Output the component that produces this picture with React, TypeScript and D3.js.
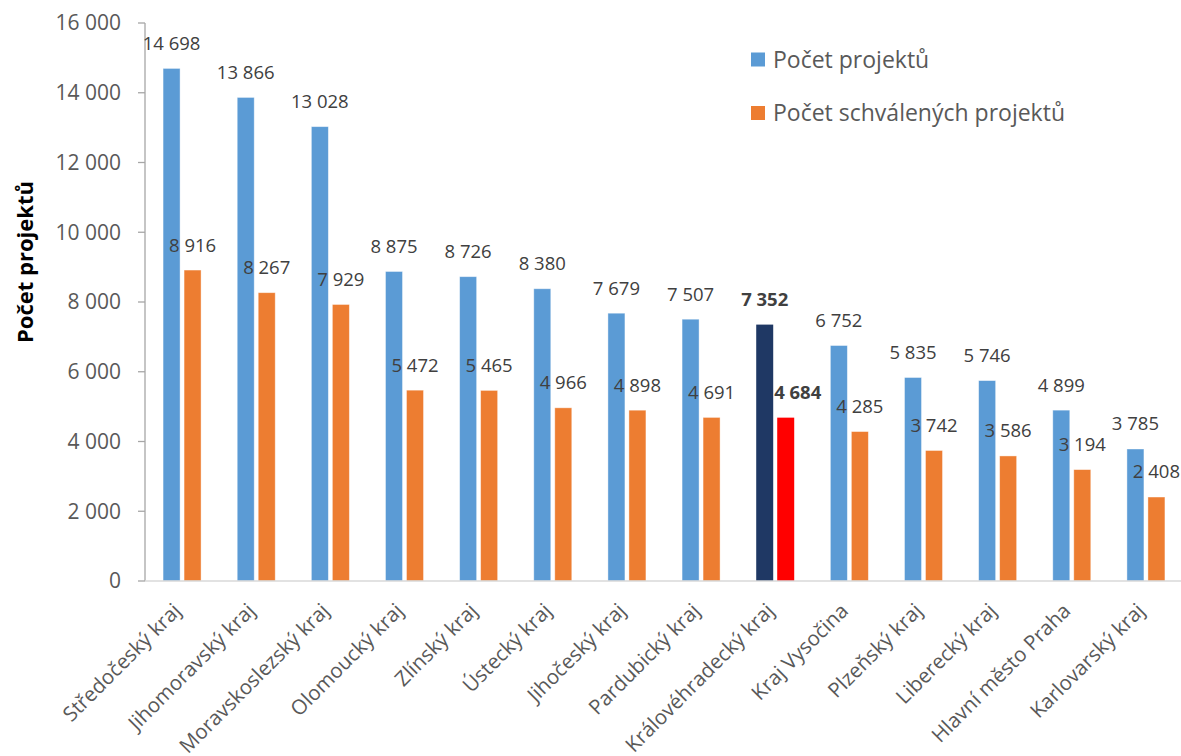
import React from "react";
import * as d3 from "d3";

const categories = [
  "Středočeský kraj", "Jihomoravský kraj", "Moravskoslezský kraj", "Olomoucký kraj",
  "Zlínský kraj", "Ústecký kraj", "Jihočeský kraj", "Pardubický kraj",
  "Královéhradecký kraj", "Kraj Vysočina", "Plzeňský kraj", "Liberecký kraj",
  "Hlavní město Praha", "Karlovarský kraj",
];
const projekty = [14698, 13866, 13028, 8875, 8726, 8380, 7679, 7507, 7352, 6752, 5835, 5746, 4899, 3785];
const schvalene = [8916, 8267, 7929, 5472, 5465, 4966, 4898, 4691, 4684, 4285, 3742, 3586, 3194, 2408];
const yTicks = [0, 2000, 4000, 6000, 8000, 10000, 12000, 14000, 16000];
const seriesNames = ["Počet projektů", "Počet schválených projektů"];
const highlight = "Královéhradecký kraj";

const W = 1181, H = 756;
const FONT = "'Open Sans', sans-serif";
const fmt = (v: number) => d3.format(",")(v).replace(/,/g, " ");

export default function App() {
  const x = d3.scaleBand<string>().domain(categories).range([145, 1183]);
  const y = d3.scaleLinear().domain([0, 16000]).range([581, 23]);
  const barW = 17, gap = 4;
  const colors = ["#5B9BD5", "#ED7D31"];
  const hiColors = ["#1F3864", "#FF0000"];
  const series = [projekty, schvalene];

  return (
    <svg width={W} height={H} style={{ position: "absolute", left: 0, top: 0, background: "#fff" }}>
      {/* y axis */}
      <line x1={145} x2={145} y1={23} y2={581} stroke="#A6A6A6" strokeWidth={1.3} />
      {yTicks.map((t) => (
        <g key={t}>
          <line x1={138} x2={145} y1={y(t)} y2={y(t)} stroke="#A6A6A6" strokeWidth={1.3} />
          <text x={121} y={y(t)} dy="0.35em" textAnchor="end" fontFamily={FONT} fontSize={21} fill="#595959">
            {fmt(t)}
          </text>
        </g>
      ))}
      <text
        transform={`translate(33,${262}) rotate(-90)`}
        textAnchor="middle"
        fontFamily={FONT}
        fontSize={22}
        fontWeight="bold"
        fill="#000"
      >
        Počet projektů
      </text>
      {/* bars */}
      {categories.map((c, i) => {
        const cx = x(c)! + x.bandwidth() / 2;
        const isHi = c === highlight;
        return (
          <g key={c}>
            {series.map((s, si) => {
              const bx = si === 0 ? cx - gap / 2 - barW : cx + gap / 2;
              const v = s[i];
              return (
                <g key={si}>
                  <rect
                    x={bx}
                    y={y(v)}
                    width={barW}
                    height={y(0) - y(v)}
                    fill={isHi ? hiColors[si] : colors[si]}
                    stroke={isHi ? "none" : "#ffffff"}
                    strokeOpacity={0.5}
                    strokeWidth={0.8}
                  />
                  <text
                    x={bx + barW / 2 + (isHi && si === 1 ? 12 : 0)}
                    y={y(v) - 25}
                    dy="0.35em"
                    textAnchor="middle"
                    fontFamily={FONT}
                    fontSize={18.5}
                    fontWeight={isHi ? "bold" : "normal"}
                    fill="#404040"
                  >
                    {fmt(v)}
                  </text>
                </g>
              );
            })}
          </g>
        );
      })}
      {/* x axis */}
      <line x1={145} x2={1181} y1={581} y2={581} stroke="#D9D9D9" strokeWidth={1.5} />
      {categories.map((c) => {
        const cx = x(c)! + x.bandwidth() / 2;
        return (
          <text
            key={c}
            transform={`translate(${cx - 5},${607}) rotate(-45)`}
            textAnchor="end"
            dy="0.35em"
            fontFamily={FONT}
            fontSize={20.5}
            fill="#595959"
          >
            {c}
          </text>
        );
      })}
      {/* legend */}
      {seriesNames.map((n, i) => (
        <g key={n}>
          <rect x={751} y={52.5 + i * 53.5} width={14} height={14} fill={colors[i]} />
          <text x={773} y={59.5 + i * 53.5} dy="0.35em" fontFamily={FONT} fontSize={23} fill="#595959">
            {n}
          </text>
        </g>
      ))}
    </svg>
  );
}
